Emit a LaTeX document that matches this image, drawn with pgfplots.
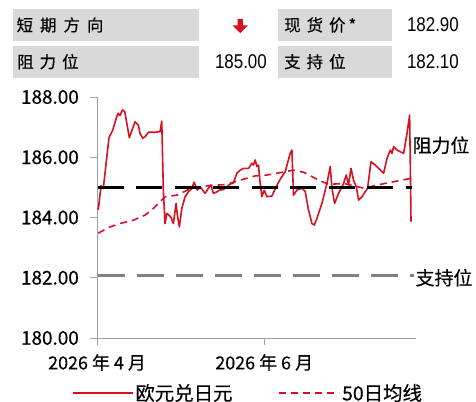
\documentclass[border=0pt]{standalone}
\usepackage{fontspec}
\usepackage{pgfplots}
\pgfplotsset{compat=1.18}
\setmainfont[FakeBold=0.35]{Noto Sans CJK SC}
\newfontfamily\numfont[FakeStretch=0.85]{Liberation Sans}
\definecolor{lred}{RGB}{214,18,32}
\definecolor{boxgray}{RGB}{217,217,217}
\definecolor{axgray}{RGB}{160,160,160}
\definecolor{lvgray}{RGB}{128,128,128}
\begin{document}
\begin{tikzpicture}
\path[use as bounding box] (0bp,0bp) rectangle (476bp,402bp);
% top table
\fill[boxgray] (12.7bp,361.3bp) rectangle (199bp,392.7bp);
\fill[boxgray] (278bp,361.3bp) rectangle (392bp,392.7bp);
\fill[boxgray] (12.7bp,324.3bp) rectangle (199bp,356.3bp);
\fill[boxgray] (278bp,324.3bp) rectangle (392bp,356.3bp);
\node[anchor=west,inner sep=0pt,font=\fontsize{16.5}{16.5}\selectfont] at (16.5bp,377bp) {短\hspace{7bp}期\hspace{7bp}方\hspace{7bp}向};
\node[anchor=west,inner sep=0pt,font=\fontsize{16.5}{16.5}\selectfont] at (17bp,340.3bp) {阻\hspace{6bp}力\hspace{6bp}位};
\node[anchor=west,inner sep=0pt,font=\fontsize{16.5}{16.5}\selectfont] at (284bp,377bp) {现\hspace{6bp}货\hspace{6bp}价\hspace{3bp}*};
\node[anchor=west,inner sep=0pt,font=\fontsize{16.5}{16.5}\selectfont] at (284bp,340.3bp) {支\hspace{6bp}持\hspace{6bp}位};
\node[anchor=east,inner sep=0pt,font=\numfont\fontsize{20}{20}\selectfont] at (459bp,377bp) {182.90};
\node[anchor=east,inner sep=0pt,font=\numfont\fontsize{20}{20}\selectfont] at (267bp,340.3bp) {185.00};
\node[anchor=east,inner sep=0pt,font=\numfont\fontsize{20}{20}\selectfont] at (459bp,340.3bp) {182.10};
\fill[lred] (237.7bp,383bp) -- (242.8bp,383bp) -- (242.8bp,376.5bp) -- (248bp,376.5bp) -- (240.25bp,369bp) -- (232.5bp,376.5bp) -- (237.7bp,376.5bp) -- cycle;
\begin{axis}[
  at={(97bp,64bp)}, anchor=south west,
  scale only axis, width=319bp, height=241bp,
  xmin=0, xmax=116.4, ymin=180, ymax=188,
  axis x line*=bottom, axis y line*=left,
  axis line style={axgray, line width=1bp},
  tick style={axgray, line width=1bp},
  tick align=outside, major tick length=7bp,
  xtick={0,61}, xticklabels={2026 年 4 月, 2026 年 6 月},
  ytick={180,182,184,186,188},
  yticklabels={180.00,182.00,184.00,186.00,188.00},
  yticklabel style={anchor=east, inner sep=0pt, xshift=-11bp, font=\fontsize{19}{19}\selectfont},
  xticklabel style={anchor=north, inner sep=0pt, yshift=-9bp, font=\fontsize{18}{18}\selectfont},
  clip=false,
  legend style={at={(0.473,-0.228)}, anchor=center, draw=none, fill=none,
    legend columns=2, font=\fontsize{19.5}{19.5}\selectfont,
    /tikz/every even column/.append style={column sep=44bp},
    inner sep=0pt},
  legend image code/.code={\draw[#1] (0bp,0bp) -- (60bp,0bp);},
]
\addplot[lred, line width=1.6bp, line join=round] coordinates {
(0.47,184.25)(1.46,185.05)(2.30,184.97)(4.38,186.65)(5.73,186.9)(7.20,187.35)
(7.78,187.46)(8.40,187.38)(9.24,187.57)(10.12,187.52)(11.80,186.65)(13.88,187.18)
(15.09,187.07)(15.71,186.79)(16.69,186.63)(17.53,186.68)(18.74,186.83)(21.19,186.83)
(23.01,186.85)(23.63,187.2)(24.22,184.85)(24.84,183.8)(25.46,184.14)(26.92,184.02)
(27.87,183.8)(28.86,184.47)(29.33,184.08)(30.06,183.69)(30.94,184.3)(32.14,184.69)
(33.35,184.85)(34.59,184.97)(35.43,185.17)(36.6,184.91)(37.62,185.02)(39.45,184.8)
(40.65,184.97)(41.53,185.08)(42.48,184.8)(43.72,184.85)(44.67,184.91)(46.13,184.93)
(47.37,185.02)(48.58,185.11)(49.79,185.15)(51.03,185.47)(52.23,185.57)(53.44,185.63)
(55.27,185.63)(56.51,185.8)(57.09,185.74)(57.71,185.91)(58.33,185.69)(58.92,185.74)
(59.54,185.13)(60.16,184.69)(61.0,184.91)(61.99,184.69)(63.81,184.71)(65.38,185.02)
(66.85,185.27)(68.67,185.52)(70.5,186.13)(71.12,186.24)(71.71,184.74)(72.94,184.91)
(74.77,184.97)(75.98,184.86)(77.18,184.25)(78.42,183.8)(79.26,183.75)(80.25,183.97)
(82.08,184.47)(83.9,185.13)(85.11,185.69)(85.73,184.97)(86.68,184.47)(88.14,184.8)
(89.97,185.13)(90.95,185.41)(91.79,185.08)(92.67,185.63)(93.62,185.24)(94.61,185.02)
(95.45,184.58)(96.69,184.69)(97.89,184.86)(98.73,184.97)(99.97,185.85)(101.54,185.74)
(102.75,185.63)(104.58,185.47)(105.82,185.96)(107.02,186.24)(107.64,186.13)(108.23,186.35)
(109.47,186.24)(111.88,186.13)(113.12,186.79)(114.07,187.4)(114.33,185.69)(114.58,183.86)
};
\addlegendentry{欧元兑日元}
\addplot[lred, line width=1.6bp, dash pattern=on 7bp off 5bp] coordinates {
(0.47,183.48)(4.75,183.69)(8.4,183.8)(13.26,183.91)(17.53,184.08)(19.98,184.25)
(23.01,184.52)(24.84,184.69)(29.11,184.74)(33.97,184.95)(40,185.05)(47.37,185.1)
(52.23,185.24)(57.71,185.38)(62,185.41)(67.5,185.5)(71.5,185.57)(75.5,185.5)
(80.9,185.24)(84.5,185.1)(90.1,185.13)(97.5,184.97)(102.3,185.08)(110,185.22)(114.6,185.3)
};
\addlegendentry{50日均线}
\addplot[black, line width=3.3bp, dash pattern=on 26bp off 12.5bp, forget plot] coordinates {(0.3,185)(114.9,185)};
\addplot[lvgray, line width=3bp, dash pattern=on 27bp off 12bp, forget plot] coordinates {(0.3,182.09)(115.6,182.09)};
\node[anchor=west, inner sep=0pt, font=\fontsize{19}{19}\selectfont] at (axis cs:115.1,186.4) {阻力位};
\node[anchor=west, inner sep=0pt, font=\fontsize{19}{19}\selectfont] at (axis cs:116.2,182.0) {支持位};
\end{axis}
\end{tikzpicture}
\end{document}
